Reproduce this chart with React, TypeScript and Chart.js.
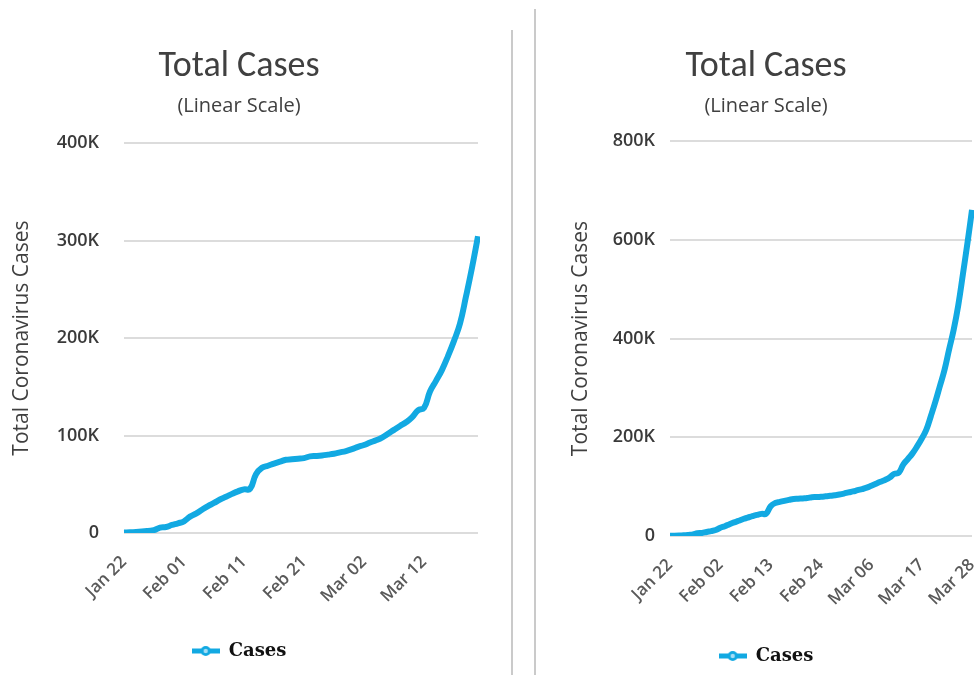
import React, { useEffect, useRef } from "react";
import { Chart, registerables } from "chart.js";

Chart.register(...registerables);

const dates = [
  "Jan 22", "Jan 23", "Jan 24", "Jan 25", "Jan 26", "Jan 27", "Jan 28", "Jan 29", "Jan 30", "Jan 31",
  "Feb 01", "Feb 02", "Feb 03", "Feb 04", "Feb 05", "Feb 06", "Feb 07", "Feb 08", "Feb 09", "Feb 10",
  "Feb 11", "Feb 12", "Feb 13", "Feb 14", "Feb 15", "Feb 16", "Feb 17", "Feb 18", "Feb 19", "Feb 20",
  "Feb 21", "Feb 22", "Feb 23", "Feb 24", "Feb 25", "Feb 26", "Feb 27", "Feb 28", "Feb 29",
  "Mar 01", "Mar 02", "Mar 03", "Mar 04", "Mar 05", "Mar 06", "Mar 07", "Mar 08", "Mar 09", "Mar 10",
  "Mar 11", "Mar 12", "Mar 13", "Mar 14", "Mar 15", "Mar 16", "Mar 17", "Mar 18", "Mar 19", "Mar 20",
  "Mar 21", "Mar 22", "Mar 23", "Mar 24", "Mar 25", "Mar 26", "Mar 27", "Mar 28",
];

const totalCases = [
  555, 654, 941, 1434, 2118, 2927, 5578, 6166, 8234, 9927,
  12038, 16787, 19887, 23898, 27643, 30802, 34395, 37129, 40160, 42769,
  44811, 45229, 60382, 66909, 69052, 71235, 73270, 75152, 75653, 76213,
  76841, 78602, 78982, 79546, 80399, 81376, 82736, 84120, 86015,
  88371, 90309, 92844, 95124, 97886, 101800, 105836, 109835, 113582, 118582,
  125865, 128343, 145193, 156097, 167449, 181531, 197146, 214910, 242708, 272166,
  304524, 336953, 378231, 418041, 467653, 529591, 593291, 660706,
];

// first chart shows Jan 22 .. Mar 21, second Jan 22 .. Mar 28
const leftDayCount = 60;

const leftYTicks = [0, 100000, 200000, 300000, 400000];
const leftYTickLabels = ["0", "100K", "200K", "300K", "400K"];
const rightYTicks = [0, 200000, 400000, 600000, 800000];
const rightYTickLabels = ["0", "200K", "400K", "600K", "800K"];

const leftXTickLabels = ["Jan 22", "Feb 01", "Feb 11", "Feb 21", "Mar 02", "Mar 12"];
const rightXTickLabels = ["Jan 22", "Feb 02", "Feb 13", "Feb 24", "Mar 06", "Mar 17", "Mar 28"];

const seriesName = "Cases";
const titleText = "Total Cases";
const subtitleText = "(Linear Scale)";
const yAxisTitle = "Total Coronavirus Cases";

const LINE_COLOR = "#12A9E2";
const TITLE_FONT = "Carlito, 'Liberation Sans Narrow', 'Open Sans', sans-serif";
const TEXT_FONT = "'Open Sans', 'DejaVu Sans', sans-serif";

function makeLegendIcon(): HTMLCanvasElement {
  const c = document.createElement("canvas");
  c.width = 28;
  c.height = 12;
  const ctx = c.getContext("2d")!;
  ctx.strokeStyle = LINE_COLOR;
  ctx.lineWidth = 5;
  ctx.beginPath();
  ctx.moveTo(0, 6);
  ctx.lineTo(28, 6);
  ctx.stroke();
  ctx.beginPath();
  ctx.arc(14, 6, 5, 0, Math.PI * 2);
  ctx.fillStyle = LINE_COLOR;
  ctx.fill();
  ctx.beginPath();
  ctx.arc(14, 6, 2.2, 0, Math.PI * 2);
  ctx.fillStyle = "#a6def5";
  ctx.fill();
  return c;
}

type Cfg = {
  labels: string[];
  values: number[];
  yTicks: number[];
  yTickLabels: string[];
  xTickLabels: string[];
  yWidth: number;
  yLabelPad: number;
  yTitlePad: number;
  xHeight: number;
  xLabelPad: number;
  padBottom: number;
  padRight: number;
  titlePadTop: number;
  subPadTop: number;
  subPadBottom: number;
};

function buildConfig(c: Cfg, icon: HTMLCanvasElement): any {
  return {
    type: "line",
    data: {
      labels: c.labels,
      datasets: [
        {
          label: seriesName,
          data: c.values,
          borderColor: LINE_COLOR,
          backgroundColor: LINE_COLOR,
          borderWidth: 6,
          pointRadius: 0,
          pointHoverRadius: 0,
          tension: 0.45,
          fill: false,
        },
      ],
    },
    options: {
      responsive: false,
      animation: false,
      devicePixelRatio: 1,
      layout: { padding: { top: 0, left: 0, right: c.padRight, bottom: c.padBottom } },
      scales: {
        x: {
          type: "category",
          offset: false,
          grid: { display: false, drawTicks: false },
          border: { display: false },
          ticks: {
            autoSkip: false,
            minRotation: 45,
            maxRotation: 45,
            padding: c.xLabelPad,
            color: "#595959",
            font: { family: TEXT_FONT, size: 17, weight: "600" },
            callback: (_v: any, i: number) => {
              const lab = c.labels[i];
              return c.xTickLabels.includes(lab) ? lab : null;
            },
          },
          afterFit: (s: any) => {
            s.height = c.xHeight;
            s.paddingLeft = 0;
            s.paddingRight = 0;
          },
        },
        y: {
          type: "linear",
          min: c.yTicks[0],
          max: c.yTicks[c.yTicks.length - 1],
          grid: { color: "#dcdcdc", lineWidth: 2, drawTicks: false },
          border: { display: false },
          ticks: {
            stepSize: c.yTicks[1] - c.yTicks[0],
            padding: c.yLabelPad,
            color: "#3a3a3a",
            font: { family: TEXT_FONT, size: 18, weight: "600" },
            callback: (v: any) => {
              const i = c.yTicks.indexOf(Number(v));
              return i >= 0 ? c.yTickLabels[i] : "";
            },
          },
          title: {
            display: true,
            text: yAxisTitle,
            color: "#404040",
            font: { family: TEXT_FONT, size: 21, weight: "400" },
            padding: { top: c.yTitlePad, bottom: 0 },
          },
          afterFit: (s: any) => {
            s.width = c.yWidth;
          },
        },
      },
      plugins: {
        title: {
          display: true,
          text: titleText,
          color: "#404040",
          font: { family: TITLE_FONT, size: 36, weight: "400", lineHeight: 1.2 },
          padding: { top: c.titlePadTop, bottom: 0 },
        },
        subtitle: {
          display: true,
          text: subtitleText,
          color: "#404040",
          font: { family: TEXT_FONT, size: 20, weight: "400", lineHeight: 1.2 },
          padding: { top: c.subPadTop, bottom: c.subPadBottom },
        },
        legend: {
          display: true,
          position: "bottom",
          labels: {
            usePointStyle: true,
            pointStyle: icon,
            pointStyleWidth: 28,
            boxHeight: 12,
            padding: 10,
            color: "#111111",
            font: { family: "'DejaVu Serif', serif", size: 18, weight: "bold" },
          },
        },
        tooltip: { enabled: false },
      },
    },
  };
}

function LineChart(props: { cfg: Cfg; width: number; height: number; left: number }) {
  const ref = useRef<HTMLCanvasElement | null>(null);
  useEffect(() => {
    if (!ref.current) return;
    const chart = new Chart(ref.current, buildConfig(props.cfg, makeLegendIcon()));
    return () => chart.destroy();
  }, []);
  return (
    <canvas
      ref={ref}
      width={props.width}
      height={props.height}
      style={{ position: "absolute", left: props.left, top: 0, width: props.width, height: props.height }}
    />
  );
}

const leftCfg: Cfg = {
  labels: dates.slice(0, leftDayCount),
  values: totalCases.slice(0, leftDayCount),
  yTicks: leftYTicks,
  yTickLabels: leftYTickLabels,
  xTickLabels: leftXTickLabels,
  yWidth: 124,
  yLabelPad: 25,
  yTitlePad: 9,
  xHeight: 99,
  xLabelPad: 19,
  padBottom: 5,
  padRight: 2,
  titlePadTop: 45,
  subPadTop: 6,
  subPadBottom: 25,
};

const rightCfg: Cfg = {
  labels: dates,
  values: totalCases,
  yTicks: rightYTicks,
  yTickLabels: rightYTickLabels,
  xTickLabels: rightXTickLabels,
  yWidth: 110,
  yLabelPad: 15,
  yTitlePad: 8,
  xHeight: 101,
  xLabelPad: 19,
  padBottom: 0,
  padRight: 8,
  titlePadTop: 45,
  subPadTop: 6,
  subPadBottom: 23,
};

export default function App() {
  return (
    <div
      style={{
        position: "fixed",
        left: 0,
        top: 0,
        width: 974,
        height: 675,
        overflow: "hidden",
        background: "#ffffff",
      }}
    >
      <LineChart cfg={leftCfg} width={480} height={675} left={0} />
      <div style={{ position: "absolute", left: 511, top: 30, width: 2, height: 645, background: "#cacaca" }} />
      <div style={{ position: "absolute", left: 534, top: 9, width: 2, height: 666, background: "#cacaca" }} />
      <LineChart cfg={rightCfg} width={420} height={675} left={560} />
    </div>
  );
}
